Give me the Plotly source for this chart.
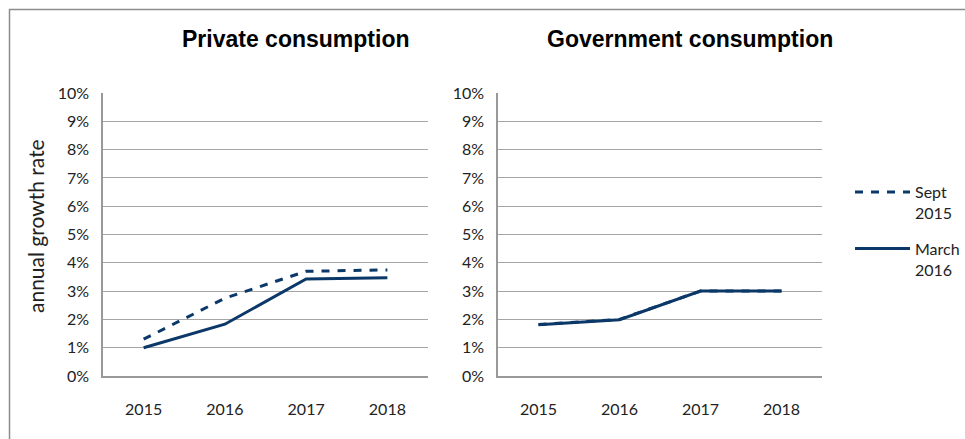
import plotly.graph_objects as go

years = ["2015", "2016", "2017", "2018"]
private_sept2015 = [1.3, 2.75, 3.7, 3.75]
private_march2016 = [1.0, 1.83, 3.43, 3.47]
gov_sept2015 = [1.82, 2.0, 3.0, 3.0]
gov_march2016 = [1.81, 1.99, 3.0, 3.0]
ytick_vals = list(range(0, 11))
ytick_text = [f"{v}%" for v in ytick_vals]
panel_titles = ["Private consumption", "Government consumption"]
series_names = ["Sept<br>2015", "March<br>2016"]

NAVY = "#0b3868"
W, H = 965, 439
DASH = "8px,8px"

fig = go.Figure()

def add(x, y, xa, ya, name, dash, show):
    fig.add_trace(go.Scatter(
        x=x, y=y, xaxis=xa, yaxis=ya, mode="lines", name=name,
        line=dict(color=NAVY, width=3, dash=dash), showlegend=show,
        legendgroup=name))

add(years, private_sept2015, "x", "y", series_names[0], DASH, True)
add(years, private_march2016, "x", "y", series_names[1], "solid", True)
add(years, gov_sept2015, "x2", "y2", series_names[0], DASH, False)
add(years, gov_march2016, "x2", "y2", series_names[1], "solid", False)

ytop = 1 - 93 / H
ybot = 1 - 376 / H

FONT = "Lato, Open Sans, sans-serif"
tickfont = dict(family=FONT, size=16, color="#222")
xcommon = dict(type="category", range=[-0.5, 3.5], showgrid=False, showline=True,
               linecolor="#999", linewidth=1.5, ticks="", tickfont=tickfont,
               ticklabelstandoff=18, fixedrange=True, automargin=False)
ycommon = dict(range=[0, 10], tickvals=ytick_vals, ticktext=ytick_text, showgrid=True,
               gridcolor="#a6a6a6", gridwidth=1.2, showline=True, linecolor="#999",
               linewidth=1.5, ticks="", tickfont=tickfont, ticklabelstandoff=9,
               zeroline=False, fixedrange=True, automargin=False)

fig.update_layout(
    width=W, height=H, margin=dict(l=0, r=0, t=0, b=0, autoexpand=False),
    paper_bgcolor="white", plot_bgcolor="white",
    xaxis=dict(domain=[103 / W, 428 / W], anchor="y", **xcommon),
    yaxis=dict(domain=[ybot, ytop], anchor="x", **ycommon),
    xaxis2=dict(domain=[498 / W, 822 / W], anchor="y2", **xcommon),
    yaxis2=dict(domain=[ybot, ytop], anchor="x2", **ycommon),
    legend=dict(x=850 / W, y=1 - 175 / H, xanchor="left", yanchor="top",
                font=dict(family=FONT, size=16, color="#222"), valign="top",
                bgcolor="rgba(0,0,0,0)", tracegroupgap=12, itemwidth=55),
    showlegend=True,
)

titlefont = dict(family="Liberation Sans, Arial, sans-serif", size=23, color="black")
fig.add_annotation(x=295 / W, y=1 - 39 / H, xref="paper", yref="paper",
                   text=f"<b>{panel_titles[0]}</b>", showarrow=False, font=titlefont,
                   xanchor="center", yanchor="middle")
fig.add_annotation(x=690 / W, y=1 - 39 / H, xref="paper", yref="paper",
                   text=f"<b>{panel_titles[1]}</b>", showarrow=False, font=titlefont,
                   xanchor="center", yanchor="middle")
fig.add_annotation(x=35 / W, y=1 - 226 / H, xref="paper", yref="paper",
                   text="annual growth rate", showarrow=False, textangle=-90,
                   font=dict(family=FONT, size=21, color="#222"),
                   xanchor="center", yanchor="middle")

# outer frame of the chart area
fig.add_shape(type="rect", xref="paper", yref="paper",
              x0=9.5 / W, x1=1.05, y0=-0.05, y1=1 - 9.5 / H,
              line=dict(color="#8c8c8c", width=1.5), fillcolor="rgba(0,0,0,0)")

fig.write_html("out.html")
